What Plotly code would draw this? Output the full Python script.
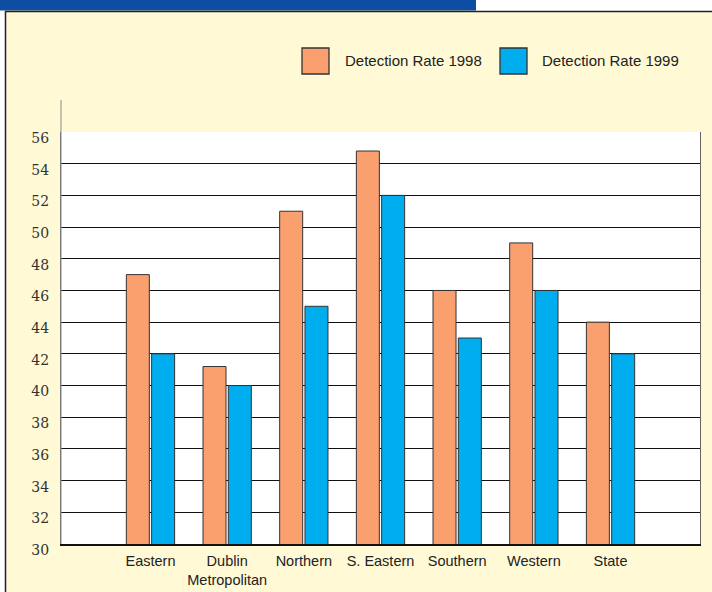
import plotly.graph_objects as go

categories = ["Eastern", "Dublin<br>Metropolitan", "Northern", "S. Eastern", "Southern", "Western", "State"]
rate_1998 = [47, 41.2, 51, 54.8, 46, 49, 44]
rate_1999 = [42, 40, 45, 52, 43, 46, 42]
series_names = ["Detection Rate 1998", "Detection Rate 1999"]
y_ticks = list(range(30, 57, 2))

W, H = 712, 592
L, R, T, B = 61, 700, 132, 544  # plot area in pixels


def px(X):
    return (X - L) / (R - L)


def py(Y):
    return (B - Y) / (B - T)


ORANGE = "#F9A06E"
BLUE = "#00AEEF"
CREAM = "#FFF9D6"
NAVY = "#0D4EA2"
SANS = "Liberation Sans, Arial, sans-serif"

fig = go.Figure()
fig.add_trace(go.Bar(x=categories, y=rate_1998, name=series_names[0],
                     marker=dict(color=ORANGE, line=dict(color="#333333", width=1)),
                     width=0.30, offset=-0.315, showlegend=False))
fig.add_trace(go.Bar(x=categories, y=rate_1999, name=series_names[1],
                     marker=dict(color=BLUE, line=dict(color="#333333", width=1)),
                     width=0.30, offset=0.015, showlegend=False))

shapes = []
# white strips outside the framed panel
shapes.append(dict(type="rect", xref="paper", yref="paper", x0=px(0), x1=px(5), y0=py(0), y1=py(H),
                   fillcolor="white", line=dict(width=0), layer="below"))
shapes.append(dict(type="rect", xref="paper", yref="paper", x0=px(470), x1=px(W), y0=py(0), y1=py(11),
                   fillcolor="white", line=dict(width=0), layer="below"))
# navy header band
shapes.append(dict(type="rect", xref="paper", yref="paper", x0=px(0), x1=px(476), y0=py(0), y1=py(10.5),
                   fillcolor=NAVY, line=dict(width=0), layer="below"))
# frame lines
shapes.append(dict(type="line", xref="paper", yref="paper", x0=px(5), x1=px(W), y0=py(11.5), y1=py(11.5),
                   line=dict(color="#222222", width=1.5)))
shapes.append(dict(type="line", xref="paper", yref="paper", x0=px(5.5), x1=px(5.5), y0=py(11), y1=py(H),
                   line=dict(color="#222222", width=1.5)))
# left axis line extending above the plot
shapes.append(dict(type="line", xref="paper", yref="paper", x0=0, x1=0, y0=py(100), y1=0,
                   line=dict(color="#8a8a8a", width=1)))

# manual legend
legend_items = [(ORANGE, series_names[0], 302, 343), (BLUE, series_names[1], 500, 540)]
annotations = []
for color, name, bx, tx in legend_items:
    shapes.append(dict(type="rect", xref="paper", yref="paper", x0=px(bx), x1=px(bx + 27),
                       y0=py(48), y1=py(74), fillcolor=color, line=dict(color="#333333", width=1.3)))
    annotations.append(dict(xref="paper", yref="paper", x=px(tx), y=py(61), text=name, showarrow=False,
                            xanchor="left", yanchor="middle",
                            font=dict(family=SANS, size=15, color="#222222")))

fig.update_layout(
    width=W, height=H,
    margin=dict(l=L, r=W - R, t=T, b=H - B, pad=0, autoexpand=False),
    paper_bgcolor=CREAM, plot_bgcolor="white",
    shapes=shapes, annotations=annotations,
    barmode="overlay",
    xaxis=dict(range=[-1.167, 7.167], showgrid=False, showline=True, linecolor="#111111", linewidth=1.5,
               ticks="", tickangle=0, automargin=False, ticklabelstandoff=3,
               tickfont=dict(family=SANS, size=14.5, color="#222222"), fixedrange=True),
    yaxis=dict(range=[30, 56], tickvals=y_ticks, showgrid=True, gridcolor="#111111", gridwidth=1.3,
               showline=True, linecolor="#666666", linewidth=1, mirror=True, zeroline=False,
               ticks="", ticklabelstandoff=8, ticklabelshift=6, automargin=False,
               tickfont=dict(family="DejaVu Serif", size=14, color="#333333"), fixedrange=True),
)

fig.write_html("out.html")
